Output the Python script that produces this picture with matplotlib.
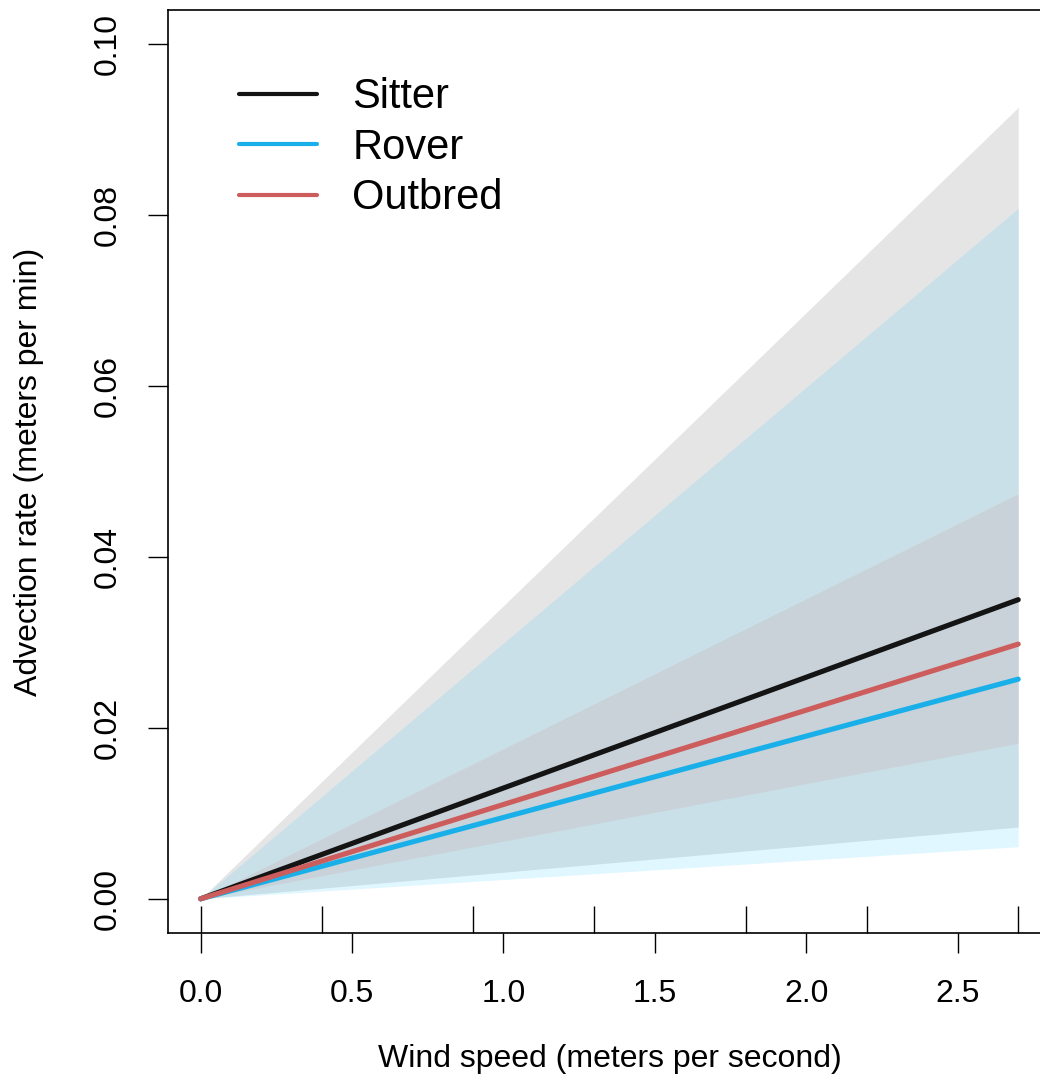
import matplotlib
matplotlib.use("Agg")
import matplotlib.pyplot as plt
import matplotlib.transforms as mtransforms

plt.rcParams["font.family"] = ["Liberation Sans", "DejaVu Sans"]

# fitted lines (advection rate vs wind speed) and their confidence fans
wind_speed = [0.0, 2.7]
groups = ["Sitter", "Rover", "Outbred"]
sitter_fit = [0.0, 0.0350]
rover_fit = [0.0, 0.0257]
outbred_fit = [0.0, 0.0298]
sitter_lo = [0.0, 0.0084]
sitter_hi = [0.0, 0.0926]
rover_lo = [0.0, 0.0061]
rover_hi = [0.0, 0.0808]
outbred_lo = [0.0, 0.0182]
outbred_hi = [0.0, 0.0474]

# observed wind speeds (rug along the bottom)
wind_obs = [0.0, 0.4, 0.9, 1.3, 1.8, 2.2, 2.7]

x_ticks = [0.0, 0.5, 1.0, 1.5, 2.0, 2.5]
y_ticks = [0.00, 0.02, 0.04, 0.06, 0.08, 0.10]

line_colors = ["#141414", "#19b0ea", "#cd5c5c"]
band_colors = [("#bebebe", 0.40), ("#00bfff", 0.12), ("#cd5c5c", 0.10)]

fig = plt.figure(figsize=(10.4, 10.84), dpi=100)
ax = fig.add_axes([0.1615, 0.1393, 0.849, 0.8515])

bands = [(sitter_lo, sitter_hi), (rover_lo, rover_hi), (outbred_lo, outbred_hi)]
for (lo, hi), (col, a) in zip(bands, band_colors):
    ax.fill_between(wind_speed, lo, hi, color=col, alpha=a, linewidth=0)

fits = [sitter_fit, rover_fit, outbred_fit]
for name, fit, col in zip(groups, fits, line_colors):
    ax.plot(wind_speed, fit, color=col, lw=3.7, solid_capstyle="round", label=name)

# rug of observed wind speeds, ticking up from the bottom of the box
trans = mtransforms.blended_transform_factory(ax.transData, ax.transAxes)
ax.vlines(wind_obs, 0, 0.029, transform=trans, color="black", lw=1.0, clip_on=False)

ax.set_xlim(-0.108, 2.808)
ax.set_ylim(-0.004, 0.104)
ax.set_xticks(x_ticks)
ax.set_xticklabels([f"{v:.1f}" for v in x_ticks])
ax.set_yticks(y_ticks)
ax.set_yticklabels([f"{v:.2f}" for v in y_ticks], rotation=90, va="center")
ax.tick_params(axis="both", direction="out", length=14.4, width=1.0, labelsize=23)
ax.tick_params(axis="x", pad=19)
ax.tick_params(axis="y", pad=18)

for s in ax.spines.values():
    s.set_linewidth(1.2)

ax.set_xlabel("Wind speed (meters per second)", fontsize=23)
ax.set_ylabel("Advection rate (meters per min)", fontsize=23)
ax.xaxis.set_label_coords(0.5, -0.12)
ax.yaxis.set_label_coords(-0.14, 0.5)

leg = ax.legend(loc="upper left", bbox_to_anchor=(0.062, 0.945), frameon=False,
                fontsize=30, handlelength=1.87, handletextpad=0.84,
                labelspacing=0.25, borderaxespad=0)
for h in leg.get_lines():
    h.set_linewidth(3.0)

fig.savefig("out.png", dpi=100)
